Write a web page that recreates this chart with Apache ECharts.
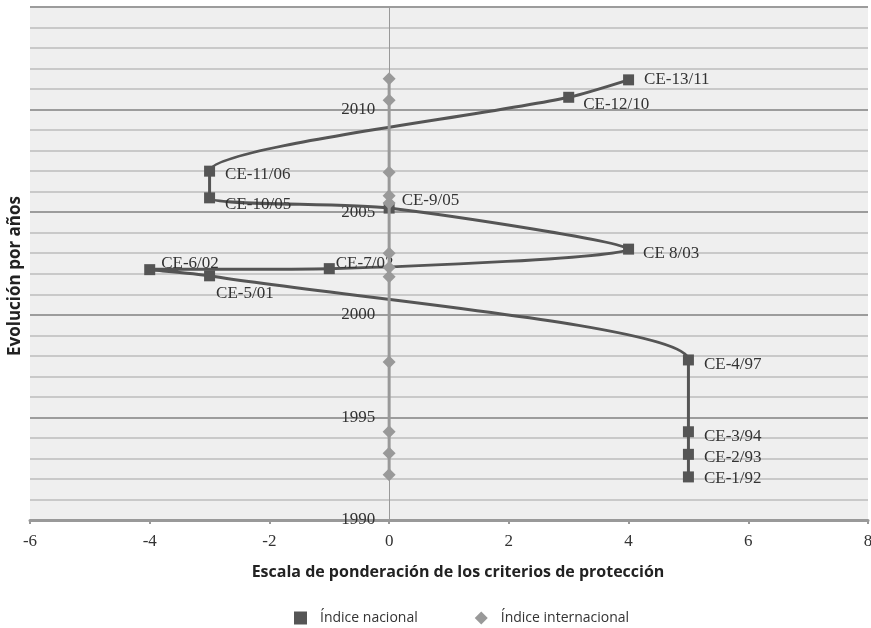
<!DOCTYPE html>
<html>
<head>
<meta charset="utf-8">
<script src="https://cdn.jsdelivr.net/npm/echarts@6/dist/echarts.min.js"></script>
<style>
  html, body { margin: 0; padding: 0; background: #ffffff; }
  #chart { width: 871px; height: 628px; }
</style>
</head>
<body>
<div id="chart"></div>
<script>
// National index: protection score (x) against the date of each constitution (y, decimal year)
const nationalNames = ['CE-1/92', 'CE-2/93', 'CE-3/94', 'CE-4/97', 'CE-5/01', 'CE-6/02', 'CE-7/02',
  'CE 8/03', 'CE-9/05', 'CE-10/05', 'CE-11/06', 'CE-12/10', 'CE-13/11'];
const nationalScore = [5, 5, 5, 5, -3, -4, -1, 4, 0, -3, -3, 3, 4];
const nationalYear = [1992.1, 1993.2, 1994.3, 1997.8, 2001.9, 2002.2, 2002.25,
  2003.2, 2005.2, 2005.7, 2007.0, 2010.6, 2011.45];

// International index: always scored 0
const internationalScore = [0, 0, 0, 0, 0, 0, 0, 0, 0, 0, 0, 0];
const internationalYear = [1992.2, 1993.25, 1994.3, 1997.7, 2001.85, 2002.3, 2003.0,
  2005.45, 2005.8, 2006.95, 2010.45, 2011.5];

// Axis scales
const xMin = -6, xMax = 8, xStep = 2;
const yMin = 1990, yMax = 2015, yStep = 5;

// Small nudges for the point labels so they do not collide [dx, dy]
const labelNudge = [[0, 2], [0, 3], [0, 5], [0, 5], [-9, 18], [-4, -6], [-9, -5],
  [-1, 4], [-3, -8], [0, 7], [0, 3], [-1, 7], [0, 0]];

const serif = '"Liberation Serif", "DejaVu Serif", serif';
const sans = '"Open Sans", "Noto Sans", sans-serif';

const gridLeft = 30, gridRight = 3;
const chartWidth = 871;
// the year labels sit beside the vertical axis drawn at x = 0
const zeroX = gridLeft + (0 - xMin) / (xMax - xMin) * (chartWidth - gridLeft - gridRight);

const nationalData = nationalScore.map((v, i) => ({
  name: nationalNames[i],
  value: [v, nationalYear[i]],
  label: { offset: labelNudge[i] }
}));
const internationalData = internationalScore.map((v, i) => [v, internationalYear[i]]);

const chart = echarts.init(document.getElementById('chart'), null, { renderer: 'canvas' });
chart.setOption({
  animation: false,
  backgroundColor: '#ffffff',
  grid: {
    left: gridLeft, right: gridRight, top: 7, bottom: 108,
    containLabel: false,
    outerBoundsMode: 'none',
    show: true, backgroundColor: '#efefef', borderWidth: 0
  },
  xAxis: {
    type: 'value',
    min: xMin, max: xMax, interval: xStep,
    name: 'Escala de ponderación de los criterios de protección',
    nameLocation: 'middle',
    nameGap: 44,
    nameTextStyle: { fontFamily: sans, fontWeight: 'bold', fontSize: 16, color: '#222', padding: [0, 0, 0, 18] },
    axisLine: { onZero: false, lineStyle: { color: '#999999', width: 3 } },
    axisTick: { show: true, length: 4, lineStyle: { color: '#999999', width: 2 } },
    axisLabel: { fontFamily: serif, fontSize: 17, color: '#333333', margin: 13 },
    splitLine: { show: false }
  },
  yAxis: {
    type: 'value',
    min: yMin, max: yMax, interval: yStep,
    name: 'Evolución por años',
    nameLocation: 'middle',
    nameGap: 6,
    nameTextStyle: { fontFamily: sans, fontWeight: 'bold', fontSize: 17, color: '#222', padding: [0, 25, 0, 0] },
    axisLine: { onZero: true, lineStyle: { color: '#999999', width: 1 } },
    axisTick: { show: false },
    axisLabel: {
      fontFamily: serif, fontSize: 17, color: '#333333',
      margin: -(zeroX - gridLeft) + 14,
      showMaxLabel: false,
      formatter: v => String(v)
    },
    splitLine: { show: true, lineStyle: { color: '#9c9c9c', width: 2 } },
    minorTick: { show: false, splitNumber: 5 },
    minorSplitLine: { show: true, lineStyle: { color: '#c9c9c9', width: 2 } }
  },
  legend: {
    left: 289, top: 606,
    itemWidth: 13, itemHeight: 13, itemGap: 57,
    textStyle: { fontFamily: sans, fontSize: 14, color: '#333333', padding: [0, 0, 0, 8] },
    data: [
      { name: 'Índice nacional', icon: 'rect' },
      { name: 'Índice internacional', icon: 'diamond' }
    ]
  },
  series: [
    {
      name: 'Índice nacional',
      type: 'line',
      smooth: 0.25,
      data: nationalData,
      symbol: 'rect',
      symbolSize: 11,
      itemStyle: { color: '#555555' },
      lineStyle: { color: '#555555', width: 3 },
      label: {
        show: true,
        position: 'right',
        distance: 10,
        formatter: p => p.name,
        fontFamily: serif,
        fontSize: 17,
        color: '#333333'
      },
      z: 3
    },
    {
      name: 'Índice internacional',
      type: 'line',
      data: internationalData,
      symbol: 'diamond',
      symbolSize: 13,
      itemStyle: { color: '#999999' },
      lineStyle: { color: '#999999', width: 3 },
      z: 4
    }
  ]
});
</script>
</body>
</html>
